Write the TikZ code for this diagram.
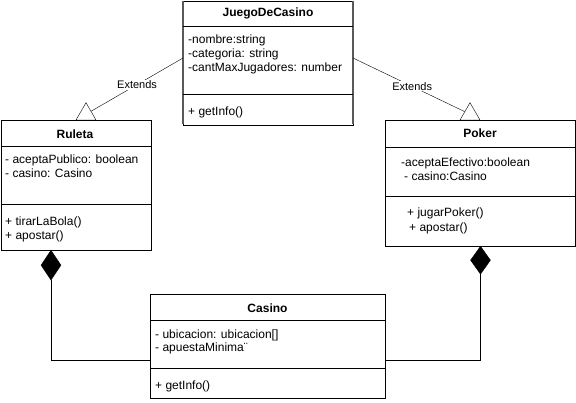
\documentclass[tikz,border=0pt]{standalone}
\usepackage{fontspec}
\setmainfont{Liberation Sans}
\usetikzlibrary{shapes.geometric}
\tikzset{
  classbox/.style={draw, fill=white, inner sep=0pt, anchor=north west},
  title/.style={font=\fontsize{12}{13.5}\selectfont\bfseries, inner sep=0pt},
  member/.style={font=\fontsize{12}{13.5}\selectfont, anchor=west, inner sep=0pt, text height=9pt, text depth=2.5pt},
  extri/.style={draw, fill=white, regular polygon, regular polygon sides=3, minimum size=23pt, inner sep=0pt},
  comp/.style={draw, fill=black, diamond, inner sep=0pt, minimum width=20pt, minimum height=30pt},
  extlabel/.style={font=\fontsize{11}{12}\selectfont, fill=white, inner sep=1pt}
}
\begin{document}
\begin{tikzpicture}[x=1pt,y=-1pt]
		\useasboundingbox (0,0) rectangle (576,402);
		% JuegoDeCasino
		\node[classbox, minimum width=170pt, minimum height=124pt] (juego) at (183,0.5) {};
		\draw[gray!70!black, line width=1.5pt] (183,0.5) -- (183,124) (353,0.5) -- (353,124);
		\draw (183,26) -- (353,26);
		\draw (183,94) -- (353,94);
		\node[title] (juegoT) at (268,13) {JuegoDeCasino};
		\node[member] (juegoA1) at (188,40) {-nombre:string};
		\node[member] (juegoA2) at (188,54) {-categoria: string};
		\node[member] (juegoA3) at (188,68) {-cantMaxJugadores: number};
		\node[member] (juegoM1) at (188,112) {+ getInfo()};
		% Ruleta
		\node[classbox, minimum width=150pt, minimum height=130pt] (ruleta) at (0.5,120) {};
		\draw (0.5,146) -- (150.5,146);
		\draw (0.5,204) -- (150.5,204);
		\node[title] (ruletaT) at (75,134) {Ruleta};
		\node[member] (ruletaA1) at (5,160) {- aceptaPublico: boolean};
		\node[member] (ruletaA2) at (5,174) {- casino: Casino};
		\node[member] (ruletaM1) at (5,222) {+ tirarLaBola()};
		\node[member] (ruletaM2) at (5,236) {+ apostar()};
		% Poker
		\node[classbox, minimum width=190pt, minimum height=126pt] (poker) at (385,120) {};
		\draw (385,147) -- (575,147);
		\draw (385,196) -- (575,196);
		\node[title] (pokerT) at (480,133) {Poker};
		\node[member] (pokerA1) at (401,163) {-aceptaEfectivo:boolean};
		\node[member] (pokerA2) at (404,177) {- casino:Casino};
		\node[member] (pokerM1) at (407,213) {+ jugarPoker()};
		\node[member] (pokerM2) at (409,228) {+ apostar()};
		% Casino
		\node[classbox, minimum width=235pt, minimum height=104pt] (casino) at (150,294) {};
		\draw (150,320) -- (385,320);
		\draw (150,368) -- (385,368);
		\node[title] (casinoT) at (267.5,308) {Casino};
		\node[member] (casinoA1) at (155,335) {- ubicacion: ubicacion[]};
		\node[member] (casinoA2) at (155,348) {- apuestaMinima¨};
		\node[member] (casinoM1) at (155,386) {+ getInfo()};
		% herencia
		\node[extri] (triL) at (86,114.2) {};
		\node[extri] (triR) at (470,114.2) {};
		\coordinate (juegoL) at (183,58);
		\coordinate (juegoR) at (353,58);
		\draw (juegoL) -- node[extlabel] {Extends} (triL);
		\draw (juegoR) -- node[extlabel, pos=0.53] {Extends} (triR);
		% composicion
		\node[comp, anchor=north] (dmL) at (51,250) {};
		\node[comp, anchor=north, minimum height=28pt] (dmR) at (480.5,246) {};
		\coordinate (casinoL) at (150,360);
		\coordinate (casinoR) at (385,360);
		\draw (dmL) |- (casinoL);
		\draw (dmR) |- (casinoR);
		\end{tikzpicture}
\end{document}
